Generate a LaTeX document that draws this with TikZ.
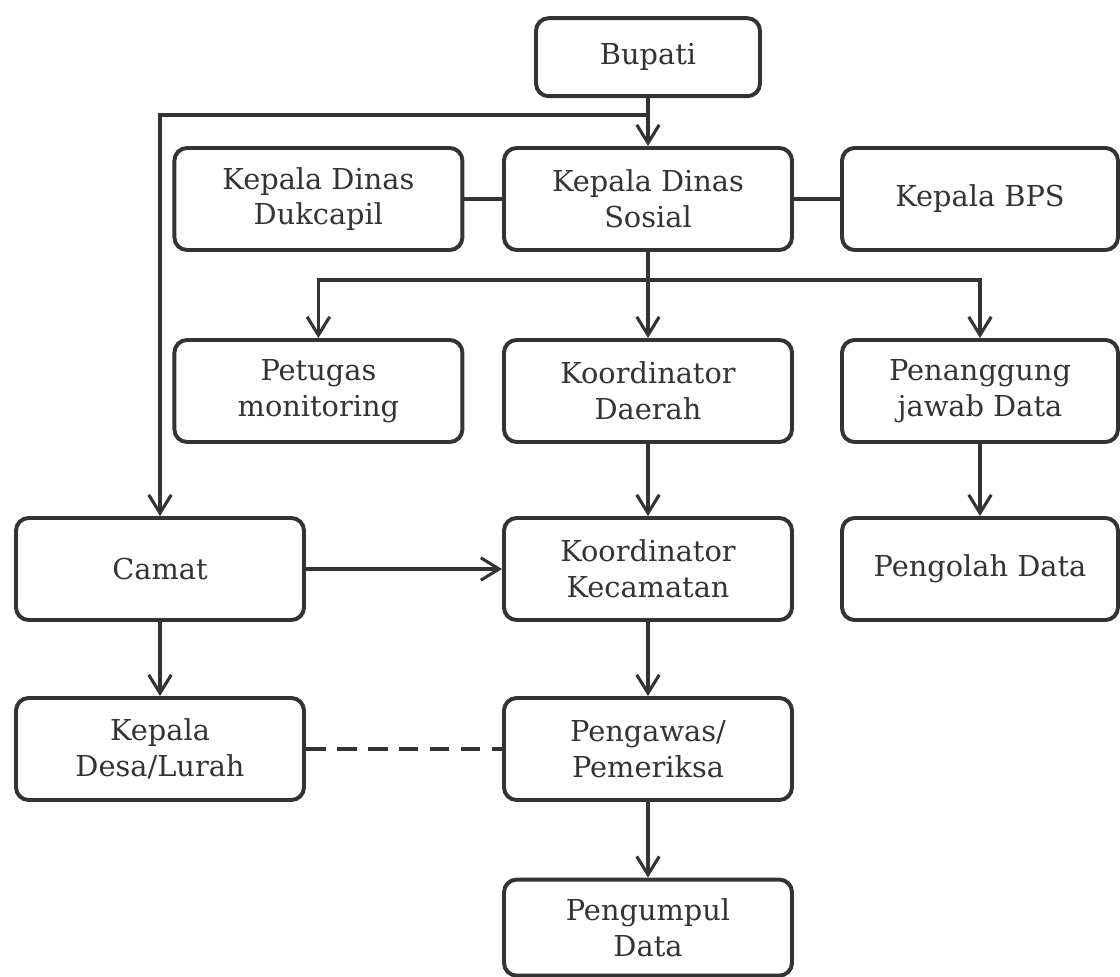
\documentclass[tikz,border=0pt]{standalone}
\usepackage{fontspec}
\setmainfont{DejaVu Serif}
\usetikzlibrary{arrows.meta}
\definecolor{ink}{HTML}{333333}
\tikzset{
  unit/.style={draw=ink,line width=2.8pt,rounded corners=9pt,align=center,
    minimum width=7.2cm,minimum height=2.55cm,inner sep=2pt,text=ink,
    font=\fontsize{20.5}{25.5}\selectfont},
  link/.style={draw=ink,line width=2.4pt,
    -{Straight Barb[length=13pt,width=16pt,line width=2.2pt]}},
  plain/.style={draw=ink,line width=2.4pt},
}
\begin{document}
\begin{tikzpicture}
\useasboundingbox (0,0) rectangle (28,-24.425);
% top level
\node[unit,minimum width=5.6cm,minimum height=1.95cm] (bupati) at (16.2,-1.43) {Bupati};
\node[unit] (dukcapil) at (7.96,-4.975) {Kepala Dinas\\Dukcapil};
\node[unit] (sosial) at (16.2,-4.975) {Kepala Dinas\\Sosial};
\node[unit,minimum width=6.9cm] (bps) at (24.5,-4.975) {Kepala BPS};
% second row
\node[unit] (petugas) at (7.96,-9.775) {Petugas\\monitoring};
\node[unit] (daerah) at (16.2,-9.775) {Koordinator\\Daerah};
\node[unit,minimum width=6.9cm] (pj) at (24.5,-9.775) {Penanggung\\jawab Data};
% third row
\node[unit] (camat) at (4,-14.225) {Camat};
\node[unit] (kec) at (16.2,-14.225) {Koordinator\\Kecamatan};
\node[unit,minimum width=6.9cm] (olah) at (24.5,-14.225) {Pengolah Data};
% bottom
\node[unit] (desa) at (4,-18.725) {Kepala\\Desa/Lurah};
\node[unit] (awas) at (16.2,-18.725) {Pengawas/\\Pemeriksa};
\node[unit,minimum height=2.4cm] (kumpul) at (16.2,-23.19) {Pengumpul\\Data};

\draw[link] (bupati) -- (sosial);
\draw[link] (bupati.south) ++(0,-0.42) -| (camat.north);
\draw[plain] (dukcapil) -- (sosial);
\draw[plain] (sosial) -- (bps);
\draw[link] (sosial.south) -- ++(0,-0.7) -| (petugas.north);
\draw[link] (sosial.south) -- ++(0,-0.7) -| (pj.north);
\draw[link] (sosial) -- (daerah);
\draw[link] (daerah) -- (kec);
\draw[link] (pj) -- (olah);
\draw[link] (camat) -- (kec);
\draw[link] (camat) -- (desa);
\draw[plain,dash pattern=on 14pt off 8pt] (desa) -- (awas);
\draw[link] (kec) -- (awas);
\draw[link] (awas) -- (kumpul);
\end{tikzpicture}
\end{document}
